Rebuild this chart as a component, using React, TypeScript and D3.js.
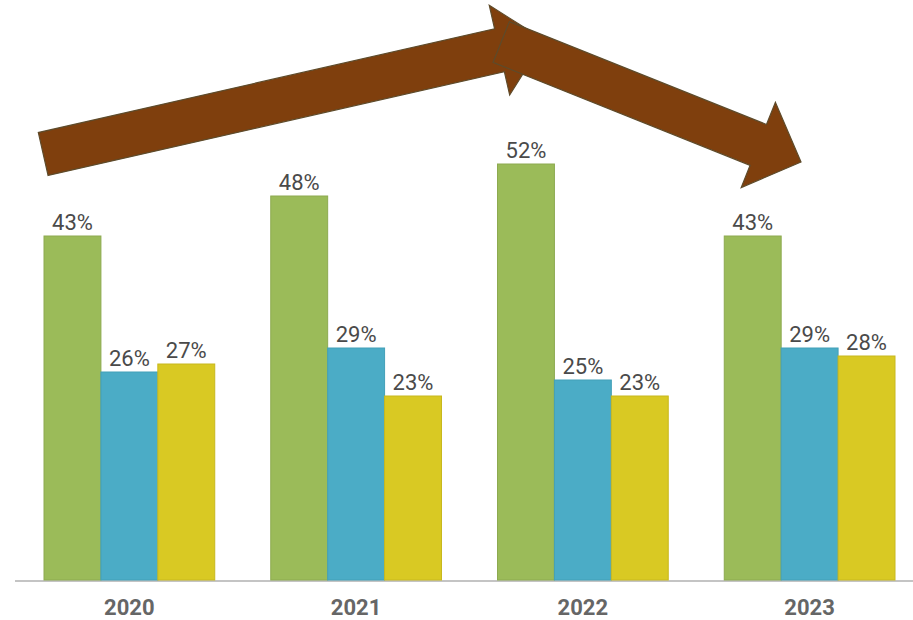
import * as d3 from 'd3';

const years = ['2020', '2021', '2022', '2023'];
const seriesNames = ['A', 'B', 'C'];
const valuesA = [43, 48, 52, 43];
const valuesB = [26, 29, 25, 29];
const valuesC = [27, 23, 23, 28];
const seriesColors = ['#9BBB59', '#4BACC6', '#D9C923'];
const seriesStroke = ['#8DAA50', '#43A0B8', '#C8B81E'];

// trend arrows in data units: x = group index (0 = 2020 centre), y = percent
const arrows = [
  { from: [-0.38, 53.25], to: [1.83, 67.5] },
  { from: [1.64, 67.25], to: [2.962, 52.25] },
];

const W = 913;
const H = 620;
const baseline = 580;

export default function App() {
  const x0 = d3.scaleBand<string>().domain(years).range([44, 895]).paddingInner(0.247).paddingOuter(0);
  const x1 = d3.scaleBand<string>().domain(seriesNames).range([0, x0.bandwidth()]).padding(0);
  const y = d3.scaleLinear().domain([0, 72.5]).range([baseline, 0]);
  const gx = d3.scaleLinear()
    .domain([0, 3])
    .range([x0(years[0])! + x0.bandwidth() / 2, x0(years[3])! + x0.bandwidth() / 2]);

  const series = [valuesA, valuesB, valuesC];

  const arrowPath = (a: { from: number[]; to: number[] }) => {
    const sx = gx(a.from[0]), sy = y(a.from[1]);
    const tx = gx(a.to[0]), ty = y(a.to[1]);
    const dx = tx - sx, dy = ty - sy;
    const len = Math.hypot(dx, dy);
    const ux = dx / len, uy = dy / len;
    const px = -uy, py = ux;
    const bw = 22, hw = 46, hl = 46;
    const bx = tx - ux * hl, by = ty - uy * hl;
    const pts: [number, number][] = [
      [sx + px * bw, sy + py * bw],
      [bx + px * bw, by + py * bw],
      [bx + px * hw, by + py * hw],
      [tx, ty],
      [bx - px * hw, by - py * hw],
      [bx - px * bw, by - py * bw],
      [sx - px * bw, sy - py * bw],
    ];
    return d3.line()(pts)! + 'Z';
  };

  return (
    <svg width={W} height={H} style={{ position: 'absolute', left: 0, top: 0, background: '#fff' }}
      fontFamily="Roboto, 'Noto Sans', sans-serif">
      <line x1={15} x2={W} y1={baseline + 1} y2={baseline + 1} stroke="#C4C4C4" strokeWidth={2} />
      {years.map((yr, i) => (
        <g key={yr} transform={`translate(${x0(yr)},0)`}>
          {series.map((vals, s) => {
            const bx = x1(seriesNames[s])!;
            return (
              <g key={s}>
                <rect x={bx} y={y(vals[i])} width={x1.bandwidth()} height={baseline - y(vals[i])}
                  fill={seriesColors[s]} stroke={seriesStroke[s]} strokeWidth={1} />
                <text x={bx + x1.bandwidth() / 2} y={y(vals[i]) - 6} textAnchor="middle"
                  fontSize={22} fill="#4A4A4A">{vals[i]}%</text>
              </g>
            );
          })}
          <text x={x0.bandwidth() / 2} y={615} textAnchor="middle" fontSize={22}
            fontWeight="bold" fill="#666">{yr}</text>
        </g>
      ))}
      {arrows.map((a, i) => (
        <path key={i} d={arrowPath(a)} fill="#7F3F0D" stroke="#5E4B2B" strokeWidth={1.2} />
      ))}
    </svg>
  );
}
